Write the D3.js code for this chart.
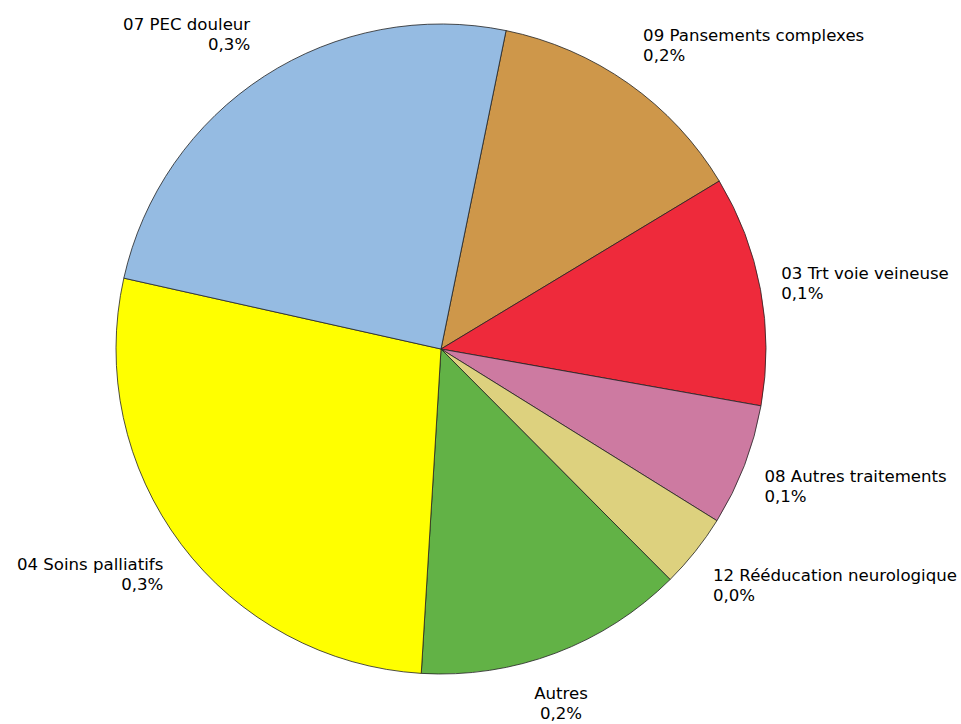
<!DOCTYPE html>
<html>
<head>
<meta charset="utf-8">
<script src="https://cdn.jsdelivr.net/npm/d3@7"></script>
<style>
  body { margin: 0; background: #fff; }
  text { font-family: "DejaVu Sans", sans-serif; font-size: 16.6px; fill: #000; }
</style>
</head>
<body>
<script>
let width = 961
let height = 724
let cx = 441
let cy = 349
let radius = 325
let labelRadius = 340
let lineGap = 20
let startDeg = 11.55

let categories = ['09 Pansements complexes', '03 Trt voie veineuse', '08 Autres traitements',
  '12 Rééducation neurologique', 'Autres', '04 Soins palliatifs', '07 PEC douleur']
let shares = [13.15, 11.44, 6.06, 3.69, 13.42, 27.53, 24.71]
let pctLabels = ['0,2%', '0,1%', '0,1%', '0,0%', '0,2%', '0,3%', '0,3%']
let colors = ['#CE974A', '#EE2A3B', '#CD7AA1', '#DDD17E', '#62B246', '#FFFF00', '#95BBE2']

let svg = d3.select('body').append('svg')
  .attr('width', width)
  .attr('height', height)

let start = startDeg * Math.PI / 180
let pie = d3.pie().sort(null).value(d => d.v)
  .startAngle(start).endAngle(start + 2 * Math.PI)
let arcs = pie(categories.map((c, i) => ({name: c, v: shares[i], pct: pctLabels[i], color: colors[i]})))
let arc = d3.arc().innerRadius(0).outerRadius(radius)

let g = svg.append('g').attr('transform', `translate(${cx},${cy})`)

g.selectAll('path')
  .data(arcs)
  .enter()
  .append('path')
  .attr('d', arc)
  .attr('fill', d => d.data.color)
  .attr('stroke', '#222')
  .attr('stroke-width', 0.8)
  .attr('stroke-linejoin', 'round')

// labels sit just outside the rim, shifted up/down with the slice direction
g.selectAll('text.lbl')
  .data(arcs)
  .enter()
  .append('text')
  .attr('class', 'lbl')
  .each(function(d) {
    let a = (d.startAngle + d.endAngle) / 2
    let s = Math.sin(a), c = Math.cos(a)
    let side = Math.abs(s) < 0.4 ? 0 : Math.sign(s)
    let x = labelRadius * s + 6 * side
    let y = -labelRadius * c - 35 * c + (s > 0 ? 3 : 0)
    let anchor = side == 0 ? 'middle' : (side > 0 ? 'start' : 'end')
    let t = d3.select(this).attr('text-anchor', anchor)
    t.append('tspan').attr('x', x).attr('y', y - lineGap / 2).attr('dy', '0.35em').text(d.data.name)
    t.append('tspan').attr('x', x).attr('y', y + lineGap / 2).attr('dy', '0.35em').text(d.data.pct)
  })
</script>
</body>
</html>
